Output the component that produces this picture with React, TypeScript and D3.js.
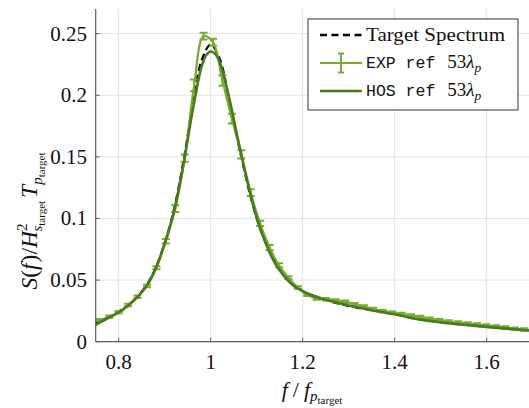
import React from "react";
import * as d3 from "d3";

const xTicks = [0.8, 1, 1.2, 1.4, 1.6];
const yTicks = [0, 0.05, 0.1, 0.15, 0.2, 0.25];
const yTickLabels = ["0", "0.05", "0.1", "0.15", "0.2", "0.25"];
const xTickLabels = ["0.8", "1", "1.2", "1.4", "1.6"];

const targetF = [0.75, 0.78, 0.8, 0.82, 0.84, 0.86, 0.88, 0.9, 0.92, 0.94, 0.96, 0.98, 1.0, 1.02, 1.04, 1.06, 1.08, 1.1, 1.12, 1.14, 1.16, 1.18, 1.2, 1.25, 1.3, 1.35, 1.4, 1.45, 1.5, 1.55, 1.6, 1.65, 1.7];
const targetS = [0.015, 0.0205, 0.0245, 0.0295, 0.0365, 0.0455, 0.0595, 0.08, 0.107, 0.145, 0.19, 0.228, 0.241, 0.229, 0.197, 0.161, 0.128, 0.1, 0.08, 0.065, 0.054, 0.046, 0.041, 0.034, 0.029, 0.0255, 0.0225, 0.0185, 0.016, 0.0138, 0.0122, 0.0107, 0.0092];

const hosF = [0.75, 0.76, 0.78, 0.8, 0.82, 0.84, 0.86, 0.88, 0.9, 0.92, 0.94, 0.96, 0.98, 0.99, 1.0, 1.01, 1.02, 1.04, 1.06, 1.08, 1.1, 1.12, 1.14, 1.16, 1.18, 1.2, 1.22, 1.25, 1.3, 1.35, 1.4, 1.45, 1.5, 1.55, 1.6, 1.65, 1.7];
const hosS = [0.0135, 0.0158, 0.0198, 0.0237, 0.0292, 0.036, 0.045, 0.0592, 0.0798, 0.1055, 0.142, 0.186, 0.223, 0.2325, 0.2355, 0.2335, 0.2265, 0.198, 0.163, 0.1295, 0.1005, 0.0795, 0.0635, 0.053, 0.0455, 0.041, 0.0375, 0.034, 0.0293, 0.0255, 0.0222, 0.0183, 0.0157, 0.0137, 0.012, 0.0104, 0.0088];

const expF = [0.759, 0.7795, 0.8, 0.8205, 0.841, 0.8615, 0.882, 0.9025, 0.923, 0.9435, 0.964, 0.9845, 1.005, 1.0255, 1.046, 1.0665, 1.087, 1.1075, 1.128, 1.1485, 1.169, 1.1895, 1.21, 1.2305, 1.251, 1.2715, 1.292, 1.3125, 1.333, 1.3535, 1.374, 1.3945, 1.415, 1.4355, 1.456, 1.4765, 1.497, 1.5175, 1.538, 1.5585, 1.579, 1.5995, 1.62, 1.6405, 1.661, 1.6815, 1.702];
const expS = [0.0176, 0.0203, 0.024, 0.0298, 0.0365, 0.0452, 0.06, 0.0815, 0.108, 0.149, 0.208, 0.248, 0.243, 0.212, 0.181, 0.152, 0.121, 0.096, 0.0765, 0.062, 0.052, 0.044, 0.038, 0.035, 0.0345, 0.0335, 0.0325, 0.0305, 0.0285, 0.0265, 0.0248, 0.0236, 0.0225, 0.0213, 0.02, 0.0187, 0.0175, 0.0164, 0.0155, 0.0147, 0.014, 0.0131, 0.0124, 0.0116, 0.0106, 0.0099, 0.0093];
const expErr = [0.0009, 0.0009, 0.0009, 0.001, 0.001, 0.0011, 0.0013, 0.0019, 0.0027, 0.003, 0.0047, 0.0028, 0.0028, 0.0043, 0.004, 0.0034, 0.0027, 0.0022, 0.002, 0.0016, 0.0012, 0.0011, 0.001, 0.001, 0.001, 0.001, 0.001, 0.001, 0.001, 0.001, 0.001, 0.001, 0.001, 0.001, 0.001, 0.001, 0.001, 0.001, 0.001, 0.001, 0.001, 0.001, 0.001, 0.001, 0.001, 0.001, 0.001];

const EXP_COLOR = "#77ac30";
const HOS_COLOR = "#4b7a1c";
const SERIF = "'Liberation Serif', 'DejaVu Serif', serif";
const MONO = "'Liberation Mono', 'DejaVu Sans Mono', monospace";

export default function App() {
  const W = 529, H = 408;
  const x = d3.scaleLinear().domain([0.75, 1.7]).range([95.7, 532.7]);
  const y = d3.scaleLinear().domain([0, 0.27]).range([341.7, 9]);
  const [x0, x1] = x.range();
  const [y0, y1] = y.range();

  const line = d3.line<[number, number]>().x(d => x(d[0])).y(d => y(d[1])).curve(d3.curveCatmullRom.alpha(0.5));
  const tPath = line(targetF.map((f, i) => [f, targetS[i]]))!;
  const hPath = line(hosF.map((f, i) => [f, hosS[i]]))!;
  const ePath = line(expF.map((f, i) => [f, expS[i]]))!;

  const axisColor = "#5a5a5a";
  const gridColor = "#e3e3e3";

  return (
    <svg width={W} height={H} style={{ position: "absolute", left: 0, top: 0 }} fontFamily={SERIF}>
      <defs>
        <clipPath id="plot">
          <rect x={x0} y={y1} width={x1 - x0} height={y0 - y1} />
        </clipPath>
      </defs>
      <rect width={W} height={H} fill="#fff" />
      {xTicks.map(t => (
        <line key={"gx" + t} x1={x(t)} x2={x(t)} y1={y0} y2={y1} stroke={gridColor} strokeWidth={1} />
      ))}
      {yTicks.map(t => (
        <line key={"gy" + t} x1={x0} x2={x1} y1={y(t)} y2={y(t)} stroke={gridColor} strokeWidth={1} />
      ))}
      <g clipPath="url(#plot)">
        <path d={tPath} fill="none" stroke="#000" strokeWidth={2.2} strokeDasharray="7 4" />
        <path d={ePath} fill="none" stroke={EXP_COLOR} strokeWidth={2.2} />
        {expF.map((f, i) => {
          const cx = x(f);
          const ya = y(expS[i] + expErr[i]);
          const yb = y(expS[i] - expErr[i]);
          return (
            <g key={"e" + i} stroke={EXP_COLOR} strokeWidth={2}>
              <line x1={cx} x2={cx} y1={ya} y2={yb} />
              <line x1={cx - 4} x2={cx + 4} y1={ya} y2={ya} />
              <line x1={cx - 4} x2={cx + 4} y1={yb} y2={yb} />
            </g>
          );
        })}
        <path d={hPath} fill="none" stroke={HOS_COLOR} strokeWidth={2.6} />
      </g>
      {/* axes */}
      <line x1={x0} x2={x0} y1={y0} y2={y1} stroke={axisColor} strokeWidth={1.2} />
      <line x1={x0} x2={x1} y1={y0} y2={y0} stroke={axisColor} strokeWidth={1.2} />
      {xTicks.map((t, i) => (
        <g key={"xt" + t}>
          <line x1={x(t)} x2={x(t)} y1={y0} y2={y0 - 4} stroke={axisColor} strokeWidth={1} />
          <text x={x(t)} y={369} textAnchor="middle" fontSize={21} fill="#111">{xTickLabels[i]}</text>
        </g>
      ))}
      {yTicks.map((t, i) => (
        <g key={"yt" + t}>
          <line x1={x0} x2={x0 + 4} y1={y(t)} y2={y(t)} stroke={axisColor} strokeWidth={1} />
          <text x={87} y={y(t) + 7} textAnchor="end" fontSize={21} fill="#111">{yTickLabels[i]}</text>
        </g>
      ))}
      {/* x label */}
      <text x={312} y={397} textAnchor="middle" fontSize={22} fill="#111">
        <tspan fontStyle="italic">f</tspan>
        <tspan dx={5}>/</tspan>
        <tspan dx={5} fontStyle="italic">f</tspan>
        <tspan fontSize={15} fontStyle="italic" dy={4}>p</tspan>
        <tspan fontSize={11} dy={3}>target</tspan>
      </text>
      {/* y label */}
      <text transform="translate(37,221) rotate(-90)" textAnchor="middle" fontSize={23.5} fill="#111">
        <tspan fontStyle="italic">S</tspan>
        <tspan>(</tspan>
        <tspan fontStyle="italic">f</tspan>
        <tspan dx={1}>)/</tspan>
        <tspan fontStyle="italic">H</tspan>
        <tspan fontSize={15} dy={-10}>2</tspan>
        <tspan fontSize={15} fontStyle="italic" dx={-8} dy={15}>s</tspan>
        <tspan fontSize={11} dy={3}>target</tspan>
        <tspan fontStyle="italic" dx={3} dy={-8}>T</tspan>
        <tspan fontSize={15} fontStyle="italic" dy={5}>p</tspan>
        <tspan fontSize={11} dy={3}>target</tspan>
      </text>
      {/* legend */}
      <rect x={308} y={19} width={210} height={91} fill="#fff" stroke="#333" strokeWidth={1} />
      <line x1={320} x2={362} y1={35} y2={35} stroke="#000" strokeWidth={2.4} strokeDasharray="7 4.5" />
      <text x={366} y={41} fontSize={19.5} fill="#111" textLength={139} lengthAdjust="spacingAndGlyphs">Target Spectrum</text>
      <g stroke={EXP_COLOR} strokeWidth={2}>
        <line x1={320} x2={362} y1={63} y2={63} strokeWidth={2.2} />
        <line x1={341} x2={341} y1={53.5} y2={72.5} />
        <line x1={338} x2={344} y1={53.5} y2={53.5} />
        <line x1={338} x2={344} y1={72.5} y2={72.5} />
      </g>
      <text x={366} y={68} fontSize={16.5} fill="#111">
        <tspan fontFamily={MONO}>EXP ref </tspan>
        <tspan dx={2} fontSize={19}>53</tspan>
        <tspan fontSize={19} fontStyle="italic">λ</tspan>
        <tspan fontSize={13.5} fontStyle="italic" dy={4}>p</tspan>
      </text>
      <line x1={320} x2={362} y1={91} y2={91} stroke={HOS_COLOR} strokeWidth={2.6} />
      <text x={366} y={96} fontSize={16.5} fill="#111">
        <tspan fontFamily={MONO}>HOS ref </tspan>
        <tspan dx={2} fontSize={19}>53</tspan>
        <tspan fontSize={19} fontStyle="italic">λ</tspan>
        <tspan fontSize={13.5} fontStyle="italic" dy={4}>p</tspan>
      </text>
    </svg>
  );
}
